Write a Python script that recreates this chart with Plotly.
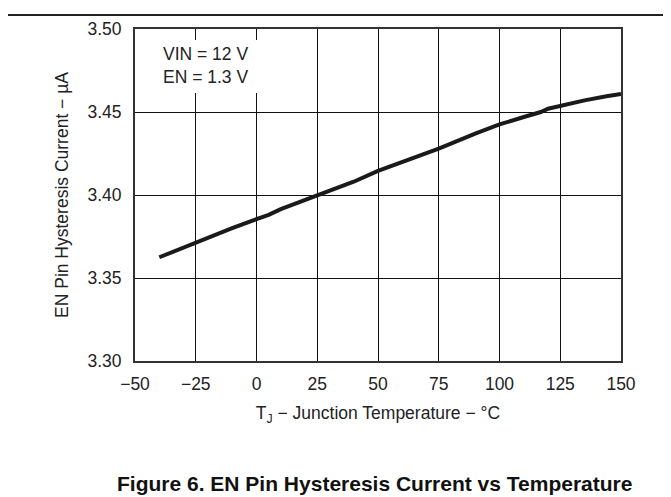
import plotly.graph_objects as go

temps = [-40, -30, -20, -10, 0, 5, 10, 20, 25, 30, 40, 50, 60, 75, 90, 100, 110, 117, 120, 125, 135, 144, 150]
current = [3.3625, 3.3685, 3.3745, 3.3800, 3.3855, 3.3880, 3.3915, 3.3970, 3.4000, 3.4025, 3.4080,
           3.4145, 3.4200, 3.4280, 3.4370, 3.4425, 3.4470, 3.4500, 3.4520, 3.4538, 3.4570, 3.4595, 3.4608]

x_ticks = [-50, -25, 0, 25, 50, 75, 100, 125, 150]
y_ticks = [3.30, 3.35, 3.40, 3.45, 3.50]
y_tick_labels = ["3.30", "3.35", "3.40", "3.45", "3.50"]

FONT = "Liberation Sans, Arial, sans-serif"
FS = 17.5

fig = go.Figure()
fig.add_trace(go.Scatter(x=temps, y=current, mode="lines",
                         line=dict(color="#1a1a1a", width=4),
                         showlegend=False, hoverinfo="skip"))

fig.update_layout(
    width=671, height=497,
    margin=dict(l=127, r=58, t=21, b=144),
    paper_bgcolor="white", plot_bgcolor="white",
    font=dict(family=FONT, size=FS, color="#222"),
    xaxis=dict(range=[-50, 150], tickvals=x_ticks, showgrid=True, gridcolor="#111", gridwidth=1,
               zeroline=False, showline=True, linecolor="#333", linewidth=2, mirror=True,
               ticks="", ticklabelstandoff=6, tickfont=dict(size=FS),
               title=dict(text="T<sub>J</sub> − Junction Temperature − °C", font=dict(size=FS), standoff=14)),
    yaxis=dict(range=[3.30, 3.50], tickvals=y_ticks, ticktext=y_tick_labels, showgrid=True,
               gridcolor="#111", gridwidth=1, zeroline=False, showline=True, linecolor="#333",
               linewidth=2, mirror=True, ticks="", ticklabelstandoff=8, tickfont=dict(size=FS),
               title=dict(text="EN Pin Hysteresis Current − µA", font=dict(size=FS), standoff=14)),
    shapes=[
        dict(type="line", xref="paper", yref="paper", x0=-0.27, x1=1.13, y0=1.042, y1=1.042,
             line=dict(color="#222", width=2)),
        dict(type="rect", xref="x", yref="paper", x0=-46, x1=4, y0=0.807, y1=0.967,
             fillcolor="white", line=dict(width=0), layer="above"),
    ],
    annotations=[
        dict(text="VIN = 12 V<br>EN = 1.3 V", xref="x", yref="paper", x=-39.5, y=0.96,
             xanchor="left", yanchor="top", showarrow=False, align="left",
             font=dict(size=FS, color="#222")),
        dict(text="<b>Figure 6. EN Pin Hysteresis Current vs Temperature</b>", xref="paper", yref="paper",
             x=0.493, y=-0.368, xanchor="center", yanchor="middle", showarrow=False,
             font=dict(size=21, color="#111")),
    ],
)

fig.write_html("out.html")
